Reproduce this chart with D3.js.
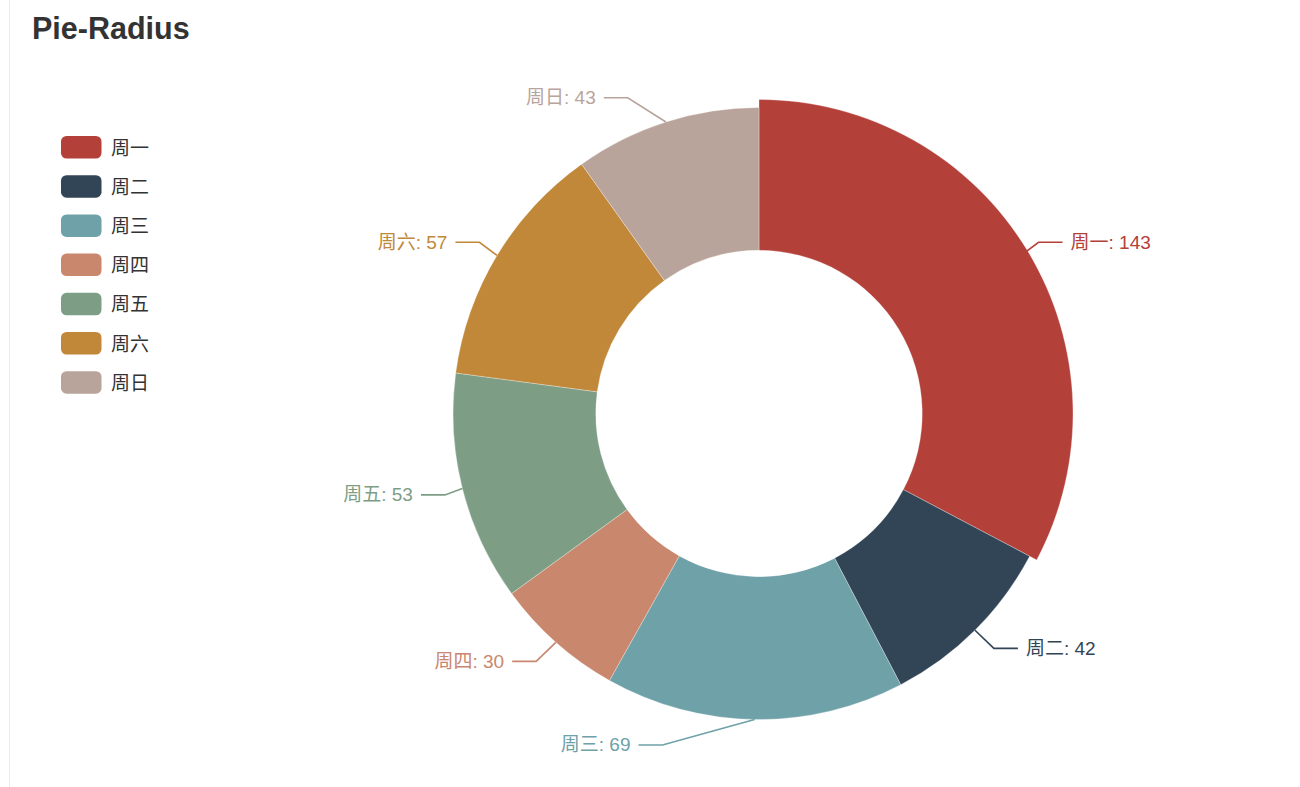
<!DOCTYPE html>
<html><head><meta charset="utf-8">
<script src="https://cdn.jsdelivr.net/npm/d3@7"></script>
<style>body{margin:0;background:#fff} svg{display:block}</style>
</head><body><svg id="c" width="1300" height="787"></svg>
<script>
// ---- data ----
const categories = ["周一", "周二", "周三", "周四", "周五", "周六", "周日"];
const values = [143, 42, 69, 30, 53, 57, 43];
const colors = ["#b4403a", "#324556", "#6ea1a8", "#c9876d", "#7d9e85", "#c1883a", "#b9a49c"];
const titleText = "Pie-Radius";
const highlighted = "周一";

// ---- layout ----
const W = 1300, H = 787;
const cx = 759, cy = 413.5, rOuter = 306, rInner = rOuter * 0.4 / 0.75, hoverGrow = 8;
const L1 = 25.5, L2 = 24, labelDist = 8;
const fontStack = "'Liberation Sans', 'Noto Sans CJK SC', sans-serif";

const svg = d3.select("#c");
svg.append("line").attr("x1", 9.5).attr("x2", 9.5).attr("y1", 0).attr("y2", H)
  .attr("stroke", "#ebebeb").attr("stroke-width", 1);

svg.append("text").attr("x", 32).attr("y", 39).text(titleText)
  .attr("font-family", fontStack).attr("font-weight", "bold").attr("font-size", 30.5).attr("fill", "#333");

const data = categories.map((c, i) => ({ name: c, value: values[i] }));
const color = d3.scaleOrdinal().domain(categories).range(colors);

// legend
const legend = svg.append("g").attr("transform", "translate(61,136)");
const legY = d3.scaleBand().domain(categories).range([0, 39.2 * categories.length]).paddingInner(0);
const li = legend.selectAll("g").data(categories).join("g").attr("transform", d => `translate(0,${legY(d)})`);
li.append("rect").attr("width", 40.5).attr("height", 22.5).attr("rx", 5.5).attr("fill", d => color(d));
li.append("text").attr("x", 50).attr("y", 12).attr("dominant-baseline", "central")
  .attr("font-family", fontStack).attr("font-size", 19).attr("fill", "#333").text(d => d);

// pie
const pie = d3.pie().value(d => d.value).sort(null);
const arcs = pie(data);
const arc = d3.arc().innerRadius(rInner).outerRadius(d => d.data.name === highlighted ? rOuter + hoverGrow : rOuter);
const g = svg.append("g").attr("transform", `translate(${cx},${cy})`);
g.selectAll("path").data(arcs).join("path").attr("d", arc)
  .attr("fill", d => color(d.data.name)).attr("stroke", "#fff").attr("stroke-width", 0.5).attr("stroke-opacity", 0.6);

// labels (echarts-like outer label layout)
const items = arcs.map(a => {
  const mid = (a.startAngle + a.endAngle) / 2;
  const sx = Math.sin(mid), sy = -Math.cos(mid);
  const x1 = cx + rOuter * sx, y1 = cy + rOuter * sy;
  const x2 = x1 + L1 * sx, y2 = y1 + L1 * sy;
  return { a, x1, y1, x2, y: y2, dir: sx < 0 ? -1 : 1, h: 24 };
});
[-1, 1].forEach(dir => {
  const list = items.filter(d => d.dir === dir).sort((p, q) => p.y - q.y);
  let lastY = -Infinity;
  list.forEach(it => {
    const top = it.y - it.h / 2;
    if (top < lastY) it.y += lastY - top;
    lastY = it.y + it.h / 2;
  });
  list.forEach(it => {
    const dy = Math.abs(it.y - cy);
    const R = rOuter + L1 + L2;
    const dx = dy < rOuter + L1 ? Math.sqrt(R * R - dy * dy) : Math.abs(it.x2 - cx);
    it.lx = cx + dx * dir;
    it.p2x = it.lx - dir * labelDist;
    it.p1x = it.p2x - dir * L2;
  });
});

const lg = svg.append("g");
lg.selectAll("polyline").data(items).join("polyline")
  .attr("points", d => `${d.x1},${d.y1} ${d.p1x},${d.y} ${d.p2x},${d.y}`)
  .attr("fill", "none").attr("stroke", d => color(d.a.data.name)).attr("stroke-width", 1.6);
lg.selectAll("text").data(items).join("text")
  .attr("x", d => d.lx).attr("y", d => d.y).attr("dominant-baseline", "central")
  .attr("text-anchor", d => d.dir < 0 ? "end" : "start")
  .attr("font-family", fontStack).attr("font-size", 19).attr("fill", d => color(d.a.data.name))
  .text(d => `${d.a.data.name}: ${d.a.data.value}`);
</script></body></html>
